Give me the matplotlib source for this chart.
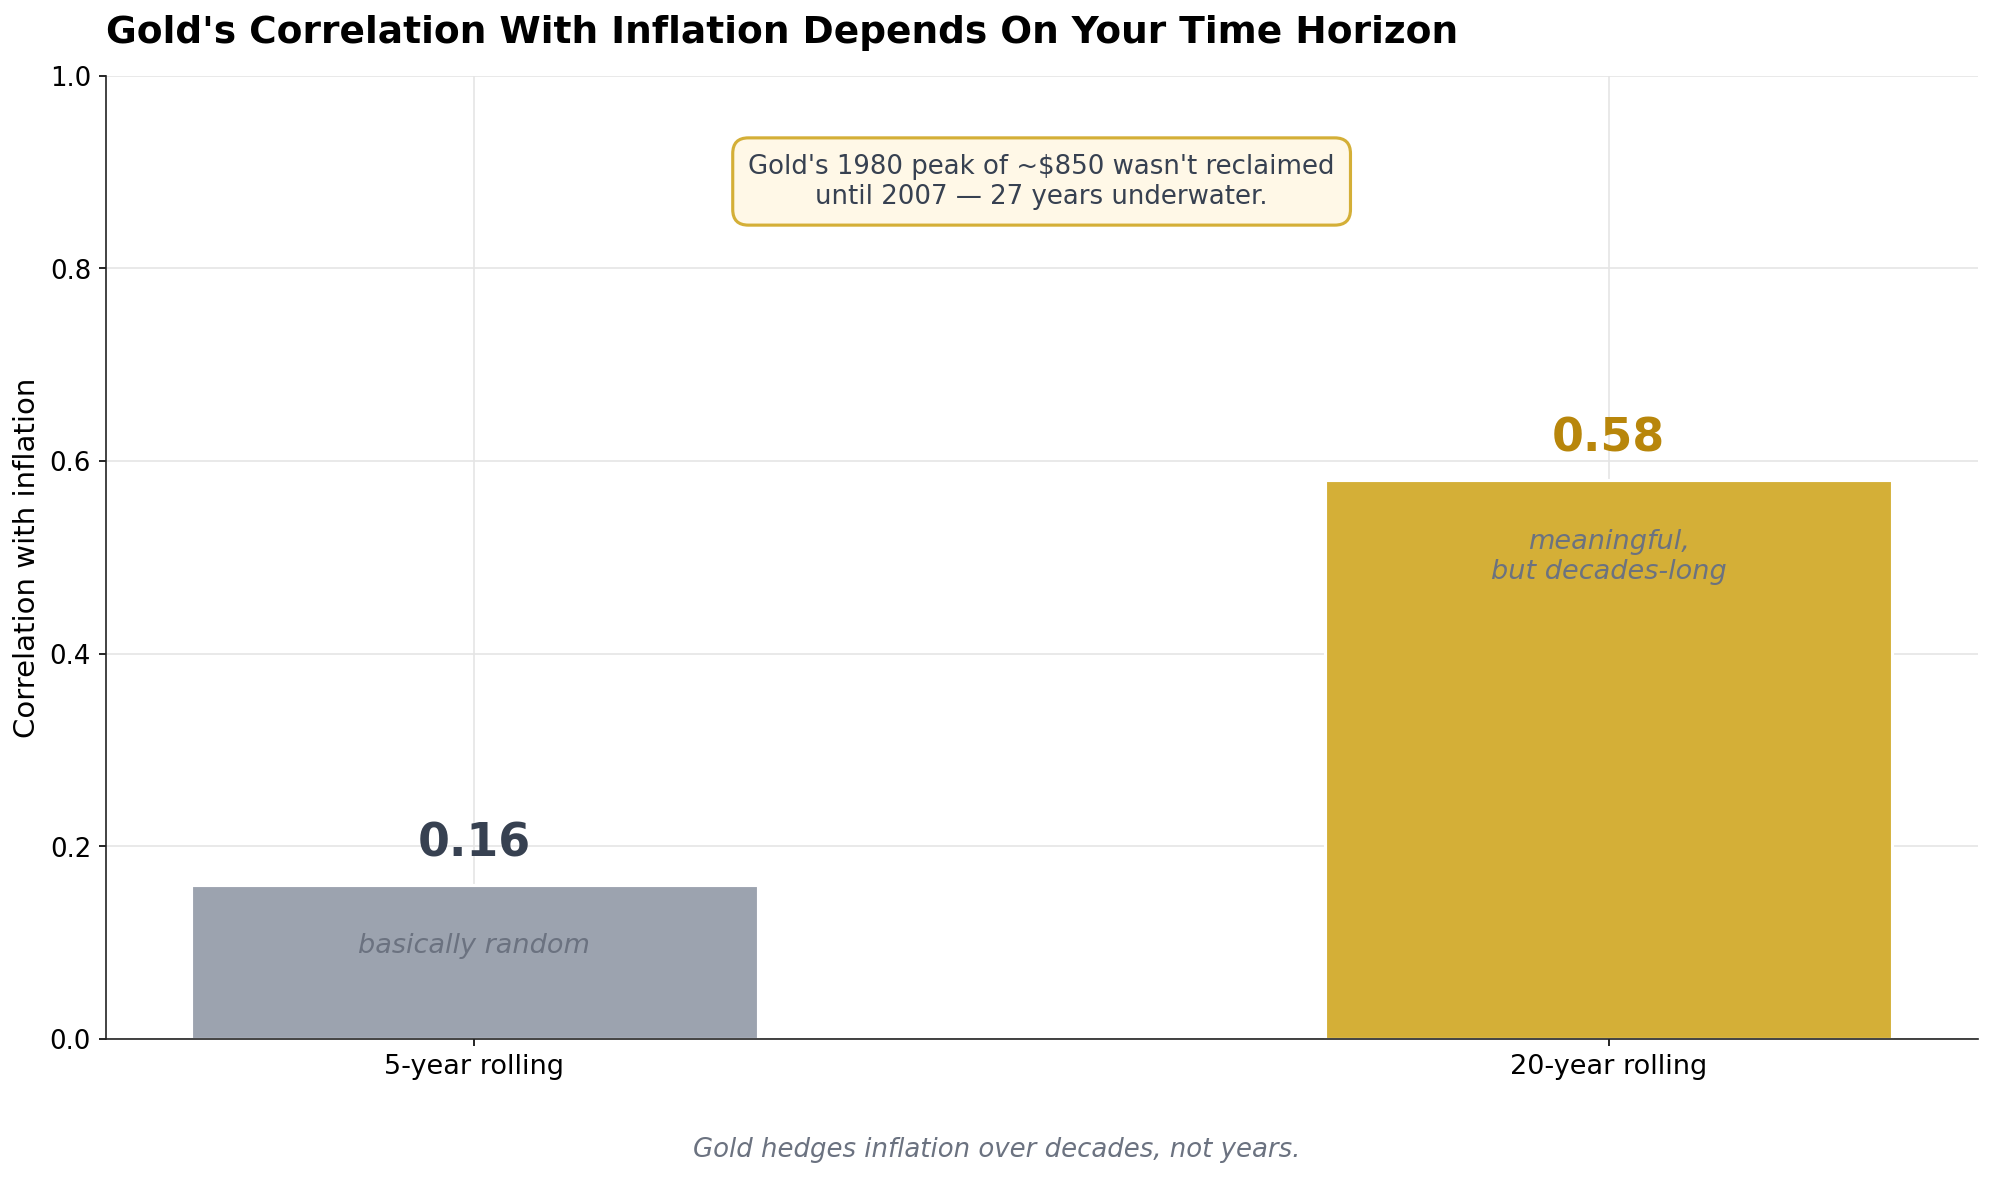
import numpy as np
import matplotlib.pyplot as plt

horizons = ['5-year rolling', '20-year rolling']
correlations = [0.16, 0.58]
inner_notes = ['basically random', 'meaningful,\nbut decades-long']
bar_colors = ['#9CA3AF', '#D4AF37']
label_colors = ['#374151', '#B8860B']

plt.rcParams['font.family'] = 'DejaVu Sans'

fig, ax = plt.subplots(figsize=(13.29, 7.87), dpi=150)
fig.subplots_adjust(left=0.053, right=0.992, top=0.9356, bottom=0.1195)

x = np.arange(len(horizons))
ax.bar(x, correlations, width=0.5, color=bar_colors, edgecolor='white', linewidth=1.5, zorder=2)

for xi, val, note, lc in zip(x, correlations, inner_notes, label_colors):
    ax.text(xi, val + 0.02, f'{val:.2f}', ha='center', va='bottom',
            fontsize=22, fontweight='bold', color=lc, zorder=3)
    ax.text(xi, val - 0.05, note, ha='center', va='top',
            fontsize=13, style='italic', color='#6B7280', zorder=3)

ax.text(0.5, 0.89, "Gold's 1980 peak of ~$850 wasn't reclaimed\nuntil 2007 \u2014 27 years underwater.",
        transform=ax.transAxes, ha='center', va='center', fontsize=12.5, color='#374151',
        bbox=dict(boxstyle='round,pad=0.6', facecolor='#FFF8E7', edgecolor='#D4AF37', linewidth=1.5))

ax.set_ylim(0, 1.0)
ax.set_xticks(x)
ax.set_xticklabels(horizons, fontsize=13)
ax.tick_params(axis='y', labelsize=12.5)
ax.set_ylabel('Correlation with inflation', fontsize=14)
ax.set_title("Gold's Correlation With Inflation Depends On Your Time Horizon",
             loc='left', fontsize=18, fontweight='bold', pad=16)

ax.grid(True, color='#E5E5E5', linewidth=0.8, zorder=0)
ax.set_axisbelow(True)
for s in ['top', 'right']:
    ax.spines[s].set_visible(False)
ax.spines['left'].set_color('#222222')
ax.spines['bottom'].set_color('#222222')

fig.text(0.5, 0.02, 'Gold hedges inflation over decades, not years.', ha='center',
         fontsize=12.5, style='italic', color='#6B7280')

fig.savefig('out.png', dpi=150)
